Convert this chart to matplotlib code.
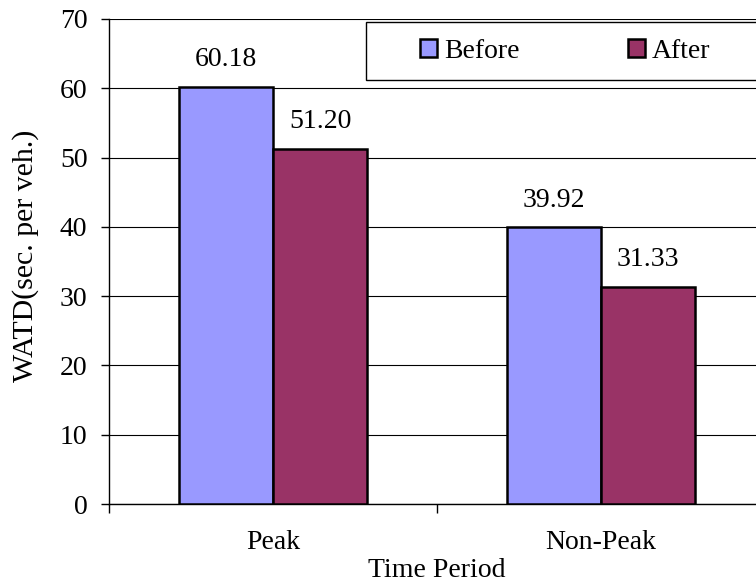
import numpy as np
import matplotlib.pyplot as plt
from matplotlib.patches import Rectangle

plt.rcParams['font.family'] = ['Liberation Serif', 'DejaVu Serif']

periods = ["Peak", "Non-Peak"]
before = [60.18, 39.92]
after = [51.20, 31.33]
yticks = [0, 10, 20, 30, 40, 50, 60, 70]

W, H = 756, 588
fig = plt.figure(figsize=(W / 100, H / 100), dpi=100)
# plot area runs a bit past the right edge of the figure
ax = fig.add_axes([109 / W, 1 - 504 / H, 656 / W, 485 / H])

x = np.arange(len(periods))
bw = 0.287
b1 = ax.bar(x - bw / 2, before, bw, color="#9999FF", edgecolor="black", linewidth=1.8,
            label="Before", zorder=3)
b2 = ax.bar(x + bw / 2, after, bw, color="#993366", edgecolor="black", linewidth=1.8,
            label="After", zorder=3)

for bars, vals in ((b1, before), (b2, after)):
    for r, v in zip(bars, vals):
        ax.annotate("%.2f" % v, (r.get_x() + r.get_width() / 2, v), xytext=(0, 15),
                    textcoords="offset points", ha="center", va="baseline", fontsize=20)

ax.set_xlim(-0.5, 1.5)
ax.set_ylim(0, 70)
ax.set_yticks(yticks)
ax.tick_params(axis="y", direction="out", length=6, width=1, pad=9.5, labelsize=20)
ax.yaxis.grid(True, color="black", linewidth=0.8, zorder=0)
ax.set_axisbelow(True)

# category boundaries get the tick marks, names sit between them
ax.set_xticks([-0.5, 0.5, 1.5])
ax.set_xticklabels([])
ax.set_xticks(x, minor=True)
ax.set_xticklabels(periods, minor=True)
ax.tick_params(axis="x", which="major", direction="out", length=6.5, width=1)
ax.tick_params(axis="x", which="minor", length=0, pad=19, labelsize=20)

for s in ("top", "right"):
    ax.spines[s].set_visible(False)
for s in ("left", "bottom"):
    ax.spines[s].set_linewidth(1.0)

ax.set_xlabel("Time Period", fontsize=20, va="top")
ax.xaxis.set_label_coords(0.5, -0.112)
ax.set_ylabel("WATD(sec. per veh.)", fontsize=21.5)
ax.yaxis.set_label_coords(-0.107, 0.512)

# legend box, open to the right edge
box = Rectangle((366 / W, 1 - 80 / H), 450 / W, 58 / H, transform=fig.transFigure,
                facecolor="white", edgecolor="black", linewidth=1.0, zorder=4)
fig.patches.append(box)
fig.legend(handles=[b1, b2], loc="center", bbox_to_anchor=(565 / W, 1 - 51 / H),
           ncol=2, frameon=False, fontsize=20, handlelength=0.62, handleheight=0.62,
           handletextpad=0.25, columnspacing=3.9, borderpad=0)

fig.savefig("out.png", dpi=100)
